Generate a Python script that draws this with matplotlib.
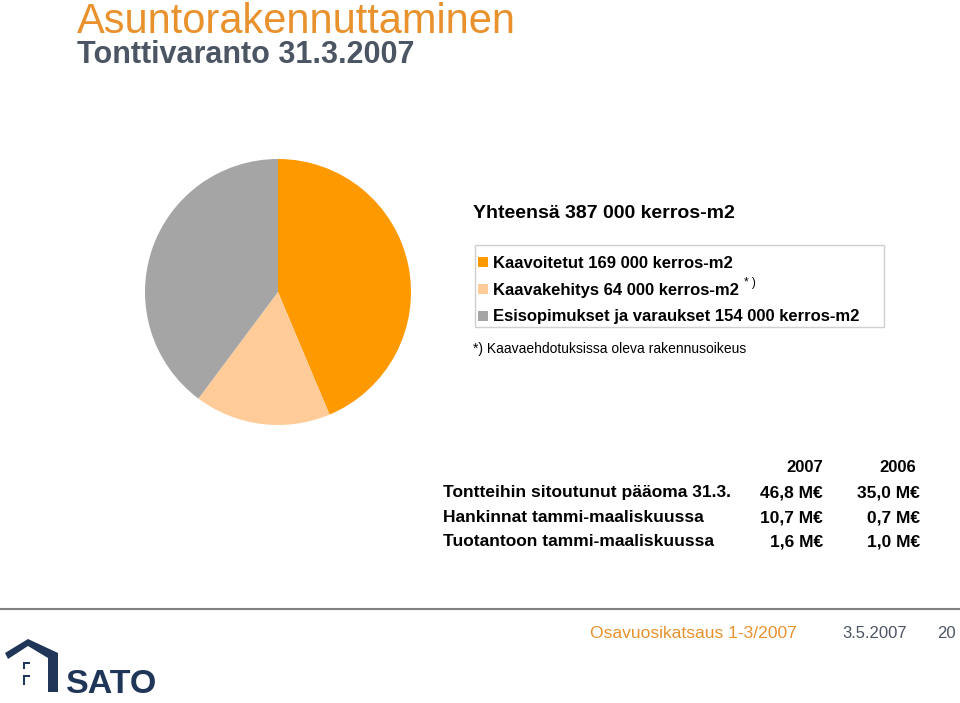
import matplotlib
matplotlib.use("Agg")
import matplotlib.pyplot as plt
from matplotlib.patches import Rectangle, Polygon
from matplotlib import font_manager

plt.rcParams['font.family'] = ['Liberation Sans', 'DejaVu Sans']

# ---- data ----
categories = ["Kaavoitetut", "Kaavakehitys", "Esisopimukset ja varaukset"]
values = [169, 64, 154]  # thousand kerros-m2
legend_labels = ["Kaavoitetut 169 000 kerros-m2",
                 "Kaavakehitys 64 000 kerros-m2",
                 "Esisopimukset ja varaukset 154 000 kerros-m2"]
colors = ["#FF9900", "#FFCC99", "#A5A5A5"]

table_years = ["2007", "2006"]
table_rows = ["Tontteihin sitoutunut pääoma 31.3.",
              "Hankinnat tammi-maaliskuussa",
              "Tuotantoon tammi-maaliskuussa"]
table_2007 = ["46,8 M€", "10,7 M€", "1,6 M€"]
table_2006 = ["35,0 M€", "0,7 M€", "1,0 M€"]

W, H = 960, 703
fig = plt.figure(figsize=(W / 100, H / 100), dpi=100)
fig.patch.set_facecolor("white")

# overlay axes in pixel coordinates (y downward)
ov = fig.add_axes([0, 0, 1, 1])
ov.set_xlim(0, W)
ov.set_ylim(H, 0)
ov.axis("off")

# ---- pie ----
cx, cy, r = 278, 292, 133
pax = fig.add_axes([(cx - r) / W, (H - cy - r) / H, 2 * r / W, 2 * r / H])
pax.pie(values, colors=colors, startangle=90, counterclock=False,
        radius=1, wedgeprops=dict(linewidth=0))
pax.set_xlim(-1, 1)
pax.set_ylim(-1, 1)
pax.set_aspect("equal")
pax.axis("off")

# ---- titles ----
ov.text(77, 33, "Asuntorakennuttaminen", fontsize=30, color="#E8912D",
        va="baseline", ha="left")
ov.text(77, 63, "Tonttivaranto 31.3.2007", fontsize=22, fontweight="bold",
        color="#4B5563", va="baseline", ha="left")

# ---- total ----
ov.text(473, 213, "Yhteensä 387 000 kerros-m2", fontsize=14, fontweight="bold",
        color="black", va="center", ha="left")

# ---- legend box ----
ov.add_patch(Rectangle((475, 245), 409, 82, fill=False, edgecolor="#D0D0D0",
                       linewidth=1.0))
ys = [262, 289, 316]
for y, c, lab in zip(ys, colors, legend_labels):
    ov.add_patch(Rectangle((478, y - 5), 10, 10, facecolor=c, edgecolor="none"))
    ov.text(493, y + 1, lab, fontsize=12, fontweight="bold", color="black",
            va="center", ha="left")
ov.text(744, 283, "* )", fontsize=8.5, color="black", va="center", ha="left")

ov.text(473, 349, "*) Kaavaehdotuksissa oleva rakennusoikeus", fontsize=10,
        color="black", va="center", ha="left")

# ---- table ----
col_x = [823, 916]
ov.text(col_x[0], 467, table_years[0], fontsize=12, fontweight="bold",
        va="center", ha="right")
ov.text(col_x[1], 467, table_years[1], fontsize=12, fontweight="bold",
        va="center", ha="right")
row_y = [493, 518, 542]
for y, lab, a, b in zip(row_y, table_rows, table_2007, table_2006):
    ov.text(443, y, lab, fontsize=12.5, fontweight="bold", va="center", ha="left")
    ov.text(col_x[0], y, a, fontsize=12.5, fontweight="bold", va="center", ha="right")
    ov.text(col_x[1] + 4, y, b, fontsize=12.5, fontweight="bold", va="center", ha="right")

# ---- footer ----
ov.plot([0, 960], [609, 609], color="#808080", linewidth=1.5)
ov.text(590, 633, "Osavuosikatsaus 1-3/2007", fontsize=12.6, color="#E8912D",
        va="center", ha="left")
ov.text(842, 633, "3.5.2007", fontsize=12, color="#4B5563", va="center", ha="left")
ov.text(937, 633, "20", fontsize=12, color="#4B5563", va="center", ha="left")

# ---- logo ----
navy = "#1F3659"
roof = Polygon([(5, 653), (28, 639), (58, 653), (58, 692), (48, 692),
                (48, 658), (28, 646), (8, 659)],
               closed=True, facecolor=navy, edgecolor="none")
ov.add_patch(roof)
for (x0, y0, h) in [(23, 662, 7), (23, 675, 10)]:
    ov.add_patch(Rectangle((x0, y0), 2.2, h, facecolor=navy, edgecolor="none"))
    ov.add_patch(Rectangle((x0, y0), 7, 2.2, facecolor=navy, edgecolor="none"))

names = {f.name for f in font_manager.fontManager.ttflist}
if "Liberation Sans Narrow" in names:
    logo_fam, logo_size = ["Liberation Sans Narrow", "DejaVu Sans"], 27
else:
    logo_fam, logo_size = ["Liberation Sans", "DejaVu Sans"], 24.5
ov.text(66, 693, "SATO", fontsize=logo_size, fontweight="bold", color=navy,
        va="baseline", ha="left", family=logo_fam)

fig.savefig("out.png", dpi=100, facecolor="white")
